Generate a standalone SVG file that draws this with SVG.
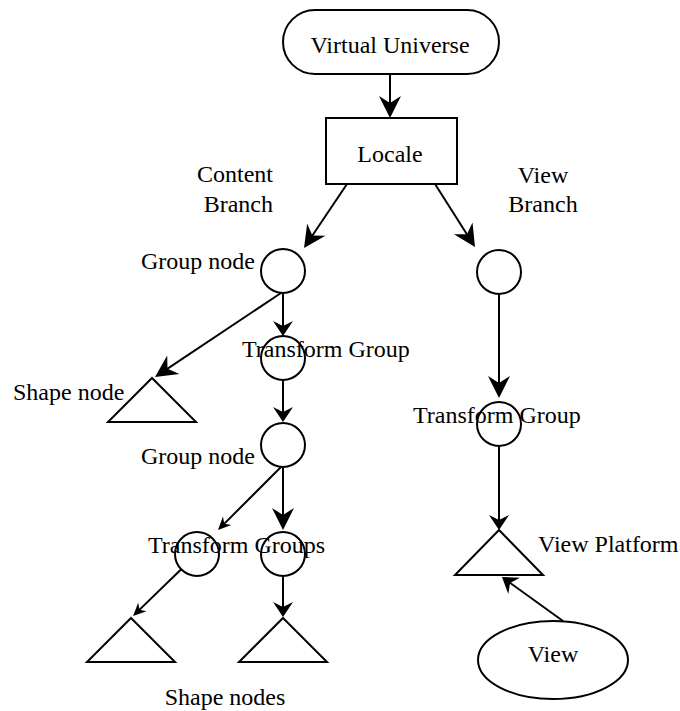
<svg xmlns="http://www.w3.org/2000/svg" width="680" height="711" viewBox="0 0 680 711">
<style>
.s{fill:none;stroke:#000;stroke-width:2}
.b{fill:#fff;stroke:#000;stroke-width:2}
.t{font-family:"Liberation Serif","Times New Roman",serif;font-size:24px;fill:#000}
.c line{stroke:#000;stroke-width:2}
</style>
<defs>
<marker id="L" markerUnits="userSpaceOnUse" markerWidth="40" markerHeight="40" refX="0" refY="0" orient="auto" overflow="visible"><path d="M3,0 L-19,-11 L-12,0 L-19,11 Z" fill="#000"/></marker>
<marker id="M" markerUnits="userSpaceOnUse" markerWidth="40" markerHeight="40" refX="0" refY="0" orient="auto" overflow="visible"><path d="M3,0 L-12,-10 L-7,0 L-12,10 Z" fill="#000"/></marker>
<marker id="S" markerUnits="userSpaceOnUse" markerWidth="40" markerHeight="40" refX="0" refY="0" orient="auto" overflow="visible"><path d="M3,0 L-10,-6 L-6,0 L-10,6 Z" fill="#000"/></marker>
</defs>
<rect width="680" height="711" fill="#fff"/>
<g id="virtual-universe"><rect class="b" x="283" y="10" width="216" height="64" rx="32"/><text class="t" x="390" y="53" text-anchor="middle">Virtual Universe</text></g>
<g id="locale"><rect class="b" x="326" y="118" width="131" height="66"/><text class="t" x="390" y="162" text-anchor="middle">Locale</text></g>
<g id="content-branch-label"><text class="t" x="273" y="182" text-anchor="end">Content</text><text class="t" x="273" y="212" text-anchor="end">Branch</text></g>
<g id="view-branch-label"><text class="t" x="543" y="183" text-anchor="middle">View</text><text class="t" x="543" y="212" text-anchor="middle">Branch</text></g>
<g id="group-node-1"><circle class="s" cx="283" cy="271" r="22"/><text class="t" x="255" y="269" text-anchor="end">Group node</text></g>
<g id="shape-node"><path class="s" d="M152,378 L196,422 L108,422 Z"/><text class="t" x="13" y="400">Shape node</text></g>
<g id="transform-group-1"><circle class="s" cx="283" cy="358" r="22"/><text class="t" x="242" y="357">Transform Group</text></g>
<g id="group-node-2"><circle class="s" cx="283" cy="445" r="22"/><text class="t" x="255" y="464" text-anchor="end">Group node</text></g>
<g id="transform-group-left"><circle class="s" cx="197" cy="554" r="22"/></g>
<g id="transform-group-right"><circle class="s" cx="283" cy="554" r="22"/><text class="t" x="148" y="553">Transform Groups</text></g>
<g id="shape-node-left"><path class="s" d="M131,618 L175,662 L87,662 Z"/></g>
<g id="shape-node-right"><path class="s" d="M283,618 L327,662 L239,662 Z"/><text class="t" x="225" y="705" text-anchor="middle">Shape nodes</text></g>
<g id="view-group"><circle class="s" cx="499" cy="272" r="22"/></g>
<g id="view-transform-group"><circle class="s" cx="499" cy="424" r="22"/><text class="t" x="413" y="423">Transform Group</text></g>
<g id="view-platform"><path class="s" d="M499,530 L543,575 L455,575 Z"/><text class="t" x="538" y="552">View Platform</text></g>
<g id="view"><ellipse class="s" cx="553" cy="660" rx="75" ry="39"/><text class="t" x="553" y="662" text-anchor="middle">View</text></g>
<g id="connectors" class="c">
<line x1="390" y1="74" x2="390" y2="115" marker-end="url(#L)"/>
<line x1="347" y1="184" x2="305.7" y2="245.5" marker-end="url(#L)"/>
<line x1="435" y1="184" x2="473.4" y2="244.5" marker-end="url(#L)"/>
<line x1="283" y1="293" x2="283" y2="333" marker-end="url(#M)"/>
<line x1="281" y1="293" x2="157.5" y2="375.3" marker-end="url(#L)"/>
<line x1="283" y1="380" x2="283" y2="419" marker-end="url(#M)"/>
<line x1="283" y1="467" x2="283" y2="527" marker-end="url(#L)"/>
<line x1="281" y1="467" x2="220.1" y2="527.9" marker-end="url(#S)"/>
<line x1="181.2" y1="569.3" x2="135.2" y2="613.9" marker-end="url(#S)"/>
<line x1="283" y1="576" x2="283" y2="614" marker-end="url(#M)"/>
<line x1="499" y1="294" x2="499" y2="395" marker-end="url(#L)"/>
<line x1="499" y1="446" x2="499" y2="527" marker-end="url(#M)"/>
<line x1="563" y1="621" x2="504.4" y2="578.8" marker-end="url(#M)"/>
</g>
</svg>
